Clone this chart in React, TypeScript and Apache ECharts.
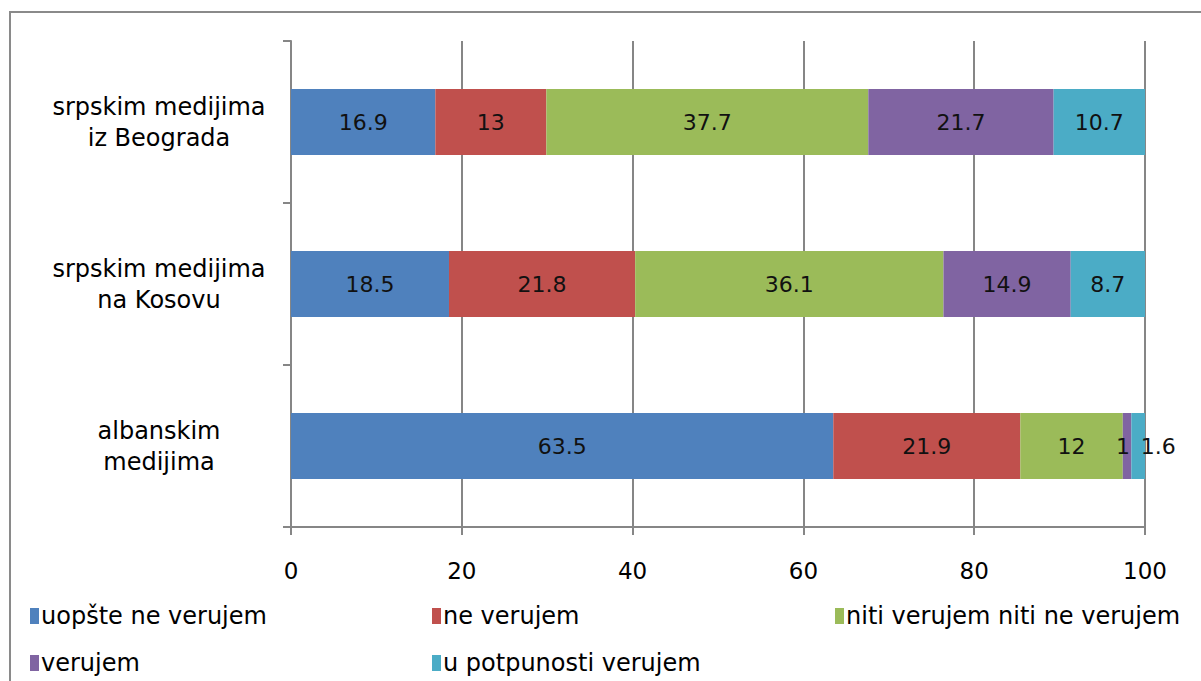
import React, { useEffect, useRef } from "react";
import * as echarts from "echarts";

const categories = [
  "albanskim\nmedijima",
  "srpskim medijima\nna Kosovu",
  "srpskim medijima\niz Beograda",
];
const seriesNames = [
  "uopšte ne verujem",
  "ne verujem",
  "niti verujem niti ne verujem",
  "verujem",
  "u potpunosti verujem",
];
const uopsteNeVerujem = [63.5, 18.5, 16.9];
const neVerujem = [21.9, 21.8, 13];
const nitiNiti = [12, 36.1, 37.7];
const verujem = [1, 14.9, 21.7];
const uPotpunosti = [1.6, 8.7, 10.7];
const xTicks = [0, 20, 40, 60, 80, 100];

const colors = ["#4F81BD", "#C0504D", "#9BBB59", "#8064A2", "#4BACC6"];
const FONT = "DejaVu Sans";

export default function App() {
  const ref = useRef<HTMLDivElement>(null);
  useEffect(() => {
    if (!ref.current) return;
    const chart = echarts.init(ref.current, undefined, { renderer: "svg" });
    const values = [uopsteNeVerujem, neVerujem, nitiNiti, verujem, uPotpunosti];
    const legendPos = [
      [30, 604],
      [432, 604],
      [835, 604],
      [30, 651],
      [432, 651],
    ];
    chart.setOption({
      animation: false,
      textStyle: { fontFamily: FONT },
      graphic: [
        {
          type: "rect",
          shape: { x: 10, y: 12, width: 1200, height: 680 },
          style: { fill: "none", stroke: "#8a8a8a", lineWidth: 2 },
          silent: true,
        },
      ],
      legend: seriesNames.map((n, i) => ({
        data: [n],
        left: legendPos[i][0],
        top: legendPos[i][1],
        icon: "rect",
        itemWidth: 9,
        itemHeight: 16,
        itemGap: 0,
        padding: 0,
        textStyle: { fontSize: 24, color: "#000", fontFamily: FONT, padding: [0, 0, 0, -3] },
        selectedMode: false,
      })),
      grid: { left: 291, right: 56, top: 41, bottom: 154, containLabel: false },
      xAxis: {
        type: "value",
        min: 0,
        max: 100,
        interval: 20,
        axisLine: { show: true, lineStyle: { color: "#868686", width: 2 } },
        axisTick: { show: true, length: 8, lineStyle: { color: "#868686", width: 2 } },
        splitLine: { show: true, lineStyle: { color: "#868686", width: 2 } },
        axisLabel: { fontSize: 23, color: "#000", margin: 32, fontFamily: FONT, formatter: (v: number) => (xTicks.includes(v) ? String(v) : "") },
      },
      yAxis: {
        type: "category",
        data: categories,
        axisLine: { show: true, lineStyle: { color: "#868686", width: 2 } },
        axisTick: { show: true, length: 8, lineStyle: { color: "#868686", width: 2 } },
        axisLabel: {
          fontSize: 24,
          color: "#000",
          align: "center",
          margin: 132,
          lineHeight: 31,
          fontFamily: FONT,
        },
      },
      series: seriesNames.map((n, i) => ({
        name: n,
        type: "bar",
        stack: "total",
        barWidth: 66,
        itemStyle: { color: colors[i] },
        label: {
          show: true,
          position: "inside",
          fontSize: 22,
          color: "#111",
          fontFamily: FONT,
        },
        data: values[i].map((v, j) =>
          i === 4 && j === 0
            ? { value: v, label: { offset: [20, 0] } }
            : i === 3 && j === 0
            ? { value: v, label: { offset: [-4, 0] } }
            : v
        ),
      })),
    });
    return () => chart.dispose();
  }, []);
  return (
    <div
      ref={ref}
      style={{ position: "fixed", left: 0, top: 0, width: 1201, height: 681, background: "#fff" }}
    />
  );
}
